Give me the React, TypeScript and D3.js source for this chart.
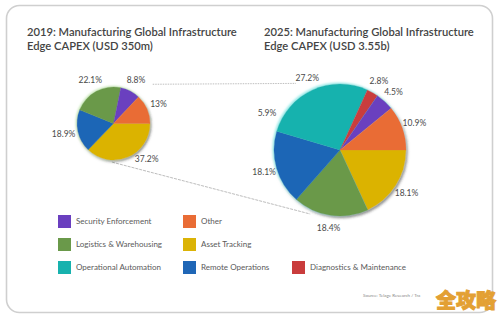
import React from "react";
import * as d3 from "d3";

// ---------- data ----------
const categories = [
  "Security Enforcement",
  "Other",
  "Logistics & Warehousing",
  "Asset Tracking",
  "Operational Automation",
  "Remote Operations",
  "Diagnostics & Maintenance",
];
const categoryColors = ["#6a3fbf", "#e96c35", "#6a994a", "#dbb306", "#17b2ae", "#1f66b6", "#c93c3c"];

const title2019 = ["2019: Manufacturing Global Infrastructure", "Edge CAPEX (USD 350m)"];
const title2025 = ["2025: Manufacturing Global Infrastructure", "Edge CAPEX (USD 3.55b)"];

const pie2019Categories = ["Asset Tracking", "Remote Operations", "Logistics & Warehousing", "Security Enforcement", "Other"];
const pie2019Values = [37.2, 18.9, 22.1, 8.8, 13];
const pie2019Labels = ["37.2%", "18.9%", "22.1%", "8.8%", "13%"];

const pie2025Categories = [
  "Asset Tracking",
  "Logistics & Warehousing",
  "Remote Operations",
  "Operational Automation",
  "Diagnostics & Maintenance",
  "Security Enforcement",
  "Other",
];
const pie2025Values = [18.1, 18.4, 18.1, 27.2, 2.8, 4.5, 10.9];
const pie2025Labels = ["18.1%", "18.4%", "18.1%", "27.2%", "2.8%", "4.5%", "10.9%"];
const pie2025ExtraLabel = "5.9%";

const legendRows = [
  ["Security Enforcement", "Other"],
  ["Logistics & Warehousing", "Asset Tracking"],
  ["Operational Automation", "Remote Operations", "Diagnostics & Maintenance"],
];
const sourceText = "Source: Telage Research / Tra";
const watermark = "全攻略";

// ---------- layout ----------
const W = 500;
const H = 321;
const pie1 = { cx: 113.5, cy: 123.5, r: 36.5, labelR: 49 };
const pie2 = { cx: 340, cy: 150, r: 66, labelR: 79 };
const label2019Nudge = [[14, -10], [-2, 0], [0, 0], [0, 0], [0, 0]];
const legendColX = [58, 183, 292];
const legendRowY = [221.5, 244.5, 267.5];

const colorScale = d3.scaleOrdinal<string, string>().domain(categories).range(categoryColors);

function polar(c: { cx: number; cy: number }, angleDeg: number, radius: number): [number, number] {
  const a = (angleDeg * Math.PI) / 180;
  return [c.cx + Math.sin(a) * radius, c.cy - Math.cos(a) * radius];
}

const FONT = "Lato, 'Open Sans', sans-serif";

function Pie({
  geo,
  cats,
  values,
  labels,
  nudges,
  id,
}: {
  geo: { cx: number; cy: number; r: number; labelR: number };
  cats: string[];
  values: number[];
  labels: string[];
  nudges?: number[][];
  id: string;
}) {
  const pieGen = d3
    .pie<number>()
    .sort(null)
    .value((d) => d)
    .startAngle(Math.PI / 2)
    .endAngle(Math.PI / 2 + 2 * Math.PI);
  const arcs = pieGen(values);
  const arc = d3.arc<d3.PieArcDatum<number>>().innerRadius(0).outerRadius(geo.r);
  const labelArc = d3.arc<d3.PieArcDatum<number>>().innerRadius(geo.labelR).outerRadius(geo.labelR);
  return (
    <g>
      <g transform={`translate(${geo.cx},${geo.cy})`} filter={`url(#shadow-${id})`}>
        {arcs.map((a, i) => (
          <path key={i} d={arc(a) || ""} fill={colorScale(cats[i])} stroke={colorScale(cats[i])} strokeWidth={0.3} />
        ))}
      </g>
      <g transform={`translate(${geo.cx},${geo.cy})`}>
        {arcs.map((a, i) => {
          const [x, y] = labelArc.centroid(a);
          const n = nudges ? nudges[i] : [0, 0];
          return (
            <text
              key={i}
              x={x + n[0]}
              y={y + n[1]}
              dy="0.35em"
              textAnchor="middle"
              fontSize={8.5}
              fill="#4a4a4a"
              fontFamily={FONT}
            >
              {labels[i]}
            </text>
          );
        })}
      </g>
    </g>
  );
}

export default function App() {
  const arcs2 = d3
    .pie<number>()
    .sort(null)
    .value((d) => d)
    .startAngle(Math.PI / 2)
    .endAngle(Math.PI / 2 + 2 * Math.PI)(pie2025Values);
  const tealStartDeg = (arcs2[3].startAngle * 180) / Math.PI;
  const extraPos = polar(pie2, tealStartDeg + 6, pie2.labelR);

  const topA = polar(pie1, 45, pie1.r * 1.52);
  const topB = polar(pie2, 326.5, pie2.r * 1.21);
  const botA = polar(pie1, 182, pie1.r * 1.06);
  const botB = polar(pie2, 205, pie2.r * 1.07);

  return (
    <svg
      width={W}
      height={H}
      style={{ position: "absolute", left: 0, top: 0, background: "#fff" }}
      xmlns="http://www.w3.org/2000/svg"
    >
      <defs>
        <filter id="shadow-a" x="-30%" y="-30%" width="160%" height="160%">
          <feDropShadow dx={-1} dy={-0.8} stdDeviation={0.8} floodColor="#b8e6a0" floodOpacity={0.7} />
          <feDropShadow dx={1.2} dy={1.5} stdDeviation={0.8} floodColor="#333" floodOpacity={0.55} />
        </filter>
        <filter id="shadow-b" x="-30%" y="-30%" width="160%" height="160%">
          <feDropShadow dx={-1.2} dy={-1.2} stdDeviation={1} floodColor="#7fe8e6" floodOpacity={0.8} />
          <feDropShadow dx={1.5} dy={2} stdDeviation={1} floodColor="#333" floodOpacity={0.5} />
        </filter>
      </defs>
      <rect x={0} y={0} width={W} height={H} fill="#fff" />
      <rect x={6.5} y={5.5} width={486} height={307} rx={13} ry={13} fill="none" stroke="#cfcfcf" strokeWidth={1.6} />

      {/* titles */}
      <text x={27} y={36} fontSize={11.2} fontWeight={600} fill="#444" fontFamily={FONT}>
        <tspan x={27}>{title2019[0]}</tspan>
        <tspan x={27} dy={14}>{title2019[1]}</tspan>
      </text>
      <text x={264} y={36} fontSize={11.2} fontWeight={600} fill="#444" fontFamily={FONT}>
        <tspan x={264}>{title2025[0]}</tspan>
        <tspan x={264} dy={14}>{title2025[1]}</tspan>
      </text>

      {/* connector lines */}
      <line x1={topA[0]} y1={topA[1]} x2={topB[0]} y2={topB[1]} stroke="#b8b8b8" strokeWidth={0.9} strokeDasharray="1.5,1" />
      <line x1={botA[0]} y1={botA[1]} x2={botB[0]} y2={botB[1]} stroke="#bdbdbd" strokeWidth={1} strokeDasharray="3,1" />

      <Pie geo={pie1} cats={pie2019Categories} values={pie2019Values} labels={pie2019Labels} nudges={label2019Nudge} id="a" />
      <Pie geo={pie2} cats={pie2025Categories} values={pie2025Values} labels={pie2025Labels} id="b" />
      <text x={extraPos[0]} y={extraPos[1] - 7} dy="0.35em" textAnchor="middle" fontSize={8.5} fill="#4a4a4a" fontFamily={FONT}>
        {pie2025ExtraLabel}
      </text>

      {/* legend */}
      {legendRows.map((row, ri) =>
        row.map((cat, ci) => (
          <g key={`${ri}-${ci}`} transform={`translate(${legendColX[ci]},${legendRowY[ri]})`}>
            <rect x={0} y={-6.5} width={13} height={13} fill={colorScale(cat)} />
            <text x={18} y={0} dy="0.35em" fontSize={8} fill="#5a5a5a" fontFamily={FONT}>
              {cat}
            </text>
          </g>
        ))
      )}

      {/* source + watermark */}
      <text x={363} y={297} fontSize={4.5} fill="#888" fontFamily={FONT}>
        {sourceText}
      </text>
      <text
        x={466}
        y={308}
        textAnchor="middle"
        fontSize={20}
        fontWeight={900}
        fill="#e3a033"
        stroke="#e3a033"
        strokeWidth={1}
        fontFamily="'Noto Sans CJK SC', sans-serif"
      >
        {watermark}
      </text>
    </svg>
  );
}
